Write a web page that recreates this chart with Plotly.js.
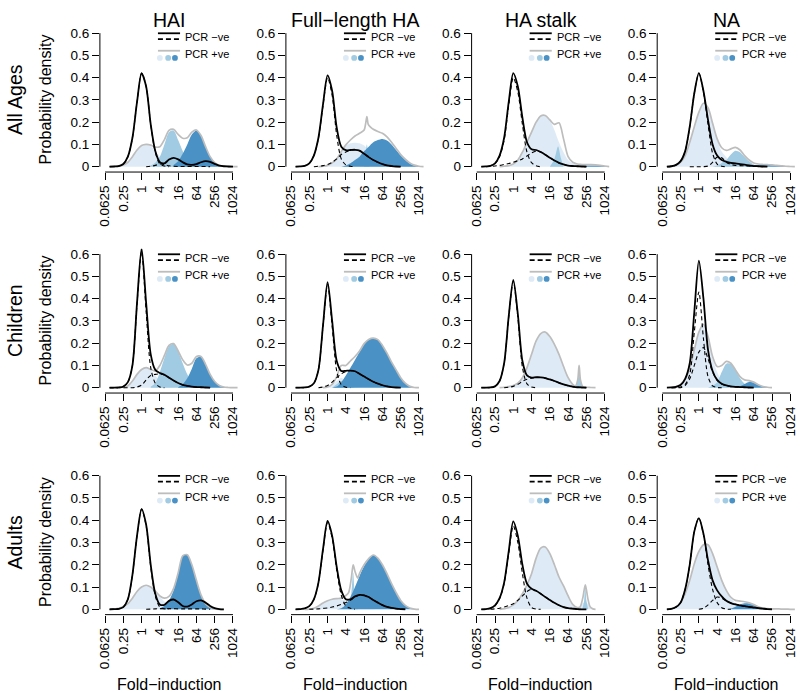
<!DOCTYPE html>
<html><head><meta charset="utf-8">
<script src="https://cdn.plot.ly/plotly-3.0.1.min.js"></script>
<style>html,body{margin:0;padding:0;background:#fff}#chart{width:800px;height:693px}</style>
</head><body><div id="chart"></div>
<script>
// ---------- labels ----------
const colTitles = ["HAI", "Full\u2212length HA", "HA stalk", "NA"];
const rowTitles = ["All Ages", "Children", "Adults"];
const xTickVals = [-4, -2, 0, 2, 4, 6, 8, 10];           // log2 fold-induction
const xTickText = ["0.0625", "0.25", "1", "4", "16", "64", "256", "1024"];
const yTickVals = [0, 0.1, 0.2, 0.3, 0.4, 0.5, 0.6];
const yTickText = ["0", "0.1", "0.2", "0.3", "0.4", "0.5", "0.6"];
const gridX = [-3.5,-3,-2.5,-2,-1.5,-1,-0.5,0,0.5,1,1.5,2,2.5,3,3.5,4,4.5,5,5.5,6,6.5,7,7.5,8,8.5,9,9.5,10,10.5];

// ---------- All ages ----------
const all_hai_neg = [0,0.001,0.003,0.012,0.045,0.13,0.29,0.42,0.36,0.19,0.07,0.02,0.015,0.032,0.04,0.033,0.02,0.01,0.008,0.012,0.02,0.025,0.022,0.013,0.005,0.002,0.001,0];
const all_hai_nd1 = [0,0.001,0.003,0.012,0.045,0.13,0.29,0.42,0.36,0.19,0.065,0.012,0.003,0];
const all_hai_nd2 = [0,0.002,0.006,0.012,0.01,0.004,0.002,0.001,0.001,0.001,0.001,0.001,0.001,0.001,0];
const all_hai_pos = [0,0.001,0.003,0.008,0.02,0.045,0.075,0.095,0.1,0.097,0.088,0.09,0.122,0.163,0.168,0.145,0.128,0.13,0.155,0.165,0.14,0.09,0.045,0.018,0.006,0.002,0.001,0,0];
const all_hai_c1 = [0,0.001,0.003,0.008,0.02,0.045,0.075,0.095,0.1,0.092,0.07,0.045,0.022,0.008,0.002,0];
const all_hai_c2 = [0.005,0.018,0.045,0.1,0.155,0.163,0.12,0.07,0.03,0.01,0.003,0];
const all_hai_c3 = [0.008,0.025,0.058,0.1,0.145,0.163,0.14,0.09,0.045,0.018,0.006,0.002,0.0005,0];

const all_fl_neg = [0,0.001,0.004,0.015,0.05,0.13,0.28,0.41,0.34,0.175,0.09,0.074,0.075,0.076,0.072,0.058,0.043,0.03,0.02,0.012,0.006,0.003,0.001,0];
const all_fl_nd1 = [0,0.001,0.004,0.015,0.05,0.128,0.275,0.4,0.32,0.14,0.035,0.008,0.002,0];
const all_fl_nd2 = [0,0.002,0.005,0.01,0.02,0.035,0.055,0.066,0.073,0.076,0.072,0.058,0.043,0.03,0.02,0.012,0.006,0.003,0.001,0];
const all_fl_pos_x = [-1,-0.5,0,0.5,1,1.5,2,2.5,3,3.5,4,4.15,4.3,4.45,4.7,5,5.5,6,6.5,7,7.5,8,8.5,9,9.5,10,10.5];
const all_fl_pos = [0,0.002,0.006,0.017,0.035,0.068,0.098,0.12,0.138,0.15,0.165,0.19,0.225,0.19,0.178,0.168,0.158,0.15,0.134,0.11,0.082,0.055,0.034,0.017,0.007,0.002,0];
const all_fl_c1 = [0,0.002,0.006,0.016,0.032,0.063,0.092,0.105,0.108,0.105,0.095,0.075,0.055,0.038,0.025,0.016,0.01,0.007,0.005,0.004,0.003,0.002,0.001,0];
const all_fl_c2_x = [4.0,4.15,4.3,4.45,4.6];
const all_fl_c2 = [0,0.05,0.1,0.05,0];
const all_fl_c3 = [0,0.005,0.015,0.03,0.045,0.07,0.09,0.11,0.12,0.125,0.118,0.1,0.075,0.05,0.03,0.014,0.005,0.002,0];

const all_st_neg = [0,0.001,0.004,0.015,0.05,0.13,0.29,0.42,0.36,0.22,0.11,0.078,0.075,0.066,0.054,0.04,0.028,0.017,0.01,0.005,0.003,0.002,0.001,0];
const all_st_nd1 = [0,0.001,0.004,0.014,0.045,0.12,0.275,0.4,0.335,0.19,0.065,0.018,0.004,0];
const all_st_nd2 = [0,0.001,0.003,0.006,0.01,0.014,0.02,0.027,0.035,0.048,0.062,0.07,0.066,0.054,0.04,0.028,0.017,0.01,0.005,0.003,0.002,0.001,0];
const all_st_pos = [0,0.002,0.005,0.012,0.03,0.065,0.11,0.155,0.2,0.228,0.23,0.21,0.19,0.197,0.125,0.045,0.02,0.012,0.01,0.009,0.009,0.008,0.006,0.003,0];
const all_st_c1 = [0,0.002,0.005,0.012,0.03,0.065,0.11,0.155,0.2,0.228,0.23,0.21,0.165,0.11,0.065,0.03,0.015,0.009,0.006,0.005,0.004,0.003,0.002,0.001,0];
const all_st_c2_x = [4.0,4.5,4.9,5.2,5.5];
const all_st_c2 = [0,0.035,0.092,0.04,0];
const all_st_c3 = [0,0.002,0.004,0.005,0.005,0.005,0.004,0.002,0];

const all_na_neg = [0,0.002,0.008,0.025,0.07,0.18,0.33,0.42,0.34,0.21,0.1,0.05,0.03,0.022,0.017,0.015,0.012,0.009,0.006,0.003,0.002,0.001,0];
const all_na_nd1 = [0,0.002,0.008,0.025,0.07,0.18,0.33,0.42,0.335,0.19,0.06,0.012,0.002,0];
const all_na_nd2 = [0,0,0,0,0.003,0.02,0.043,0.04,0.02,0.01,0.006,0.005,0.004,0.003,0.002,0.001,0];
const all_na_pos = [0,0.002,0.006,0.02,0.05,0.11,0.18,0.245,0.285,0.265,0.195,0.125,0.085,0.073,0.08,0.087,0.075,0.05,0.03,0.017,0.012,0.01,0.009,0.008,0.006,0.004,0.002,0.001,0];
const all_na_c1 = [0,0.002,0.006,0.02,0.05,0.11,0.18,0.245,0.285,0.265,0.195,0.12,0.068,0.043,0.025,0.015,0.009,0.005,0.003,0.001,0];
const all_na_c2 = [0,0.005,0.017,0.03,0.055,0.072,0.065,0.044,0.024,0.01,0.004,0.001,0];
const all_na_c3 = [0,0.003,0.006,0.007,0.008,0.008,0.007,0.006,0.004,0.002,0.001,0];

// ---------- Children ----------
const chi_hai_neg = [0,0,0.001,0.005,0.025,0.1,0.38,0.625,0.38,0.15,0.08,0.066,0.058,0.045,0.032,0.021,0.013,0.008,0.005,0.003,0.002,0.001,0];
const chi_hai_nd1 = [0,0,0.001,0.005,0.025,0.1,0.375,0.61,0.34,0.09,0.02,0.003,0];
const chi_hai_nd2 = [0,0,0,0,0,0,0.003,0.012,0.035,0.055,0.06,0.062,0.057,0.045,0.032,0.021,0.013,0.008,0.005,0.003,0.002,0.001,0];
const chi_hai_pos = [0,0.008,0.03,0.06,0.082,0.09,0.082,0.075,0.1,0.145,0.19,0.198,0.165,0.125,0.102,0.11,0.14,0.14,0.105,0.06,0.028,0.01,0.003,0.001,0,0];
const chi_hai_c1 = [0,0.008,0.03,0.06,0.082,0.09,0.078,0.055,0.03,0.012,0.004,0.001,0];
const chi_hai_c2 = [0.004,0.02,0.07,0.133,0.186,0.197,0.163,0.11,0.06,0.025,0.008,0.002,0];
const chi_hai_c3 = [0.002,0.015,0.042,0.085,0.132,0.138,0.105,0.06,0.028,0.01,0.003,0.001,0];

const chi_fl_neg = [0,0,0.001,0.005,0.02,0.08,0.28,0.474,0.3,0.12,0.075,0.076,0.077,0.074,0.062,0.05,0.038,0.027,0.018,0.011,0.006,0.003,0.001,0];
const chi_fl_nd1 = [0,0,0.001,0.005,0.02,0.08,0.277,0.464,0.275,0.075,0.013,0.002,0];
const chi_fl_nd2 = [0,0.003,0.01,0.025,0.045,0.062,0.072,0.077,0.074,0.062,0.05,0.038,0.027,0.018,0.011,0.006,0.003,0.001,0];
const chi_fl_pos = [0,0.003,0.015,0.05,0.1,0.1,0.12,0.14,0.165,0.198,0.217,0.223,0.216,0.19,0.155,0.115,0.08,0.045,0.02,0.006,0.001,0];
const chi_fl_c1 = [0,0.002,0.01,0.03,0.045,0.03,0.015,0.005,0.001,0];
const chi_fl_c2 = [0,0.015,0.03,0.015,0.005,0];
const chi_fl_c3 = [0,0.005,0.025,0.055,0.09,0.125,0.16,0.195,0.215,0.222,0.215,0.19,0.155,0.115,0.08,0.045,0.02,0.006,0.001,0];

const chi_st_neg = [0,0,0.001,0.006,0.03,0.11,0.32,0.484,0.33,0.12,0.055,0.045,0.047,0.046,0.043,0.037,0.03,0.022,0.015,0.009,0.005,0.002,0.001,0];
const chi_st_nd1 = [0,0,0.001,0.006,0.03,0.11,0.318,0.478,0.315,0.092,0.017,0.003,0];
const chi_st_nd2 = [0,0.002,0.006,0.015,0.028,0.038,0.043,0.046,0.046,0.043,0.037,0.03,0.022,0.015,0.009,0.005,0.002,0.001,0];
const chi_st_pos_x = [-1.5,-1,-0.5,0,0.5,1,1.5,2,2.5,3,3.5,4,4.5,5,5.5,6,6.5,6.8,7.05,7.2,7.35,7.6,8,8.5,9];
const chi_st_pos = [0,0.002,0.005,0.01,0.02,0.045,0.09,0.15,0.21,0.243,0.25,0.23,0.195,0.15,0.095,0.045,0.015,0.008,0.035,0.1,0.035,0.005,0.002,0.001,0];
const chi_st_c1 = [0,0.002,0.005,0.01,0.02,0.045,0.09,0.15,0.21,0.243,0.25,0.23,0.195,0.15,0.095,0.045,0.015,0.005,0.002,0.001,0];
const chi_st_c2_x = [6.8,7.05,7.2,7.35,7.6];
const chi_st_c2 = [0,0.03,0.1,0.03,0];

const chi_na_neg = [0,0.001,0.004,0.012,0.04,0.11,0.34,0.571,0.4,0.17,0.075,0.035,0.018,0.01,0.006,0.004,0.003,0.002,0.001,0];
const chi_na_nd1 = [0,0,0.003,0.015,0.06,0.25,0.43,0.22,0.05,0.008,0.001,0];
const chi_na_nd2 = [0,0,0,0.01,0.04,0.1,0.16,0.18,0.13,0.07,0.033,0.016,0.009,0.005,0.003,0.002,0.001,0];
const chi_na_pos = [0,0.005,0.015,0.04,0.09,0.17,0.25,0.285,0.23,0.14,0.095,0.1,0.118,0.11,0.08,0.05,0.035,0.032,0.025,0.013,0.005,0.002,0];
const chi_na_c1 = [0,0.005,0.015,0.04,0.09,0.17,0.25,0.285,0.23,0.13,0.07,0.03,0.01,0.003,0];
const chi_na_c2 = [0,0.01,0.025,0.07,0.108,0.107,0.078,0.042,0.018,0.006,0.002,0];
const chi_na_c3 = [0,0.007,0.017,0.026,0.023,0.012,0.005,0.002,0];

// ---------- Adults ----------
const adu_hai_neg = [0,0.001,0.002,0.01,0.045,0.155,0.33,0.45,0.38,0.2,0.07,0.022,0.02,0.038,0.044,0.032,0.015,0.012,0.022,0.036,0.04,0.03,0.015,0.005,0.001,0];
const adu_hai_nd1 = [0,0.001,0.002,0.01,0.045,0.155,0.33,0.45,0.375,0.19,0.06,0.01,0.002,0];
const adu_hai_nd2 = [0,0.001,0.002,0.003,0.003,0.003,0.003,0.002,0.002,0.002,0.002,0.002,0.002,0.001,0];
const adu_hai_pos = [0,0.001,0.004,0.012,0.025,0.05,0.08,0.1,0.108,0.1,0.082,0.06,0.05,0.058,0.093,0.163,0.24,0.245,0.2,0.13,0.065,0.025,0.008,0.002,0,0];
const adu_hai_c1 = [0,0.001,0.004,0.012,0.025,0.05,0.08,0.1,0.108,0.1,0.082,0.055,0.035,0.018,0.008,0.003,0];
const adu_hai_c3 = [0.005,0.015,0.04,0.085,0.16,0.24,0.245,0.2,0.13,0.065,0.025,0.008,0.002,0];

const adu_fl_neg = [0,0.001,0.004,0.014,0.045,0.12,0.27,0.397,0.33,0.19,0.085,0.045,0.045,0.058,0.065,0.063,0.055,0.042,0.03,0.019,0.011,0.006,0.003,0.001,0];
const adu_fl_nd1 = [0,0.001,0.004,0.014,0.044,0.118,0.266,0.39,0.32,0.175,0.063,0.015,0.005,0];
const adu_fl_nd2 = [0,0.001,0.002,0.004,0.006,0.01,0.015,0.022,0.03,0.04,0.055,0.063,0.063,0.055,0.042,0.03,0.019,0.011,0.006,0.003,0.001,0];
const adu_fl_pos_x = [-2.5,-2,-1.5,-1,-0.5,0,0.5,1,1.5,2,2.3,2.6,2.8,3.0,3.3,3.5,4,4.5,5,5.5,6,6.5,7,7.5,8,8.5,9,9.5,10];
const adu_fl_pos = [0,0.001,0.005,0.015,0.028,0.038,0.045,0.048,0.05,0.062,0.075,0.14,0.2,0.17,0.14,0.162,0.2,0.228,0.244,0.23,0.2,0.16,0.115,0.075,0.04,0.018,0.006,0.001,0];
const adu_fl_c1 = [0,0.005,0.015,0.028,0.038,0.045,0.048,0.045,0.04,0.03,0.02,0.012,0.006,0.003,0.001,0];
const adu_fl_c2_x = [2.3,2.6,2.8,3.0,3.3];
const adu_fl_c2 = [0,0.07,0.165,0.05,0];
const adu_fl_c3 = [0,0.005,0.022,0.055,0.1,0.15,0.195,0.225,0.243,0.23,0.2,0.16,0.115,0.075,0.04,0.018,0.006,0.001,0];

const adu_st_neg = [0,0.001,0.005,0.018,0.05,0.12,0.26,0.395,0.33,0.2,0.115,0.092,0.083,0.07,0.055,0.042,0.029,0.018,0.01,0.005,0.003,0.001,0,0];
const adu_st_nd1 = [0,0.001,0.004,0.016,0.047,0.115,0.25,0.375,0.3,0.16,0.05,0.008,0.001,0];
const adu_st_nd2 = [0,0.002,0.005,0.01,0.017,0.025,0.04,0.06,0.08,0.09,0.083,0.07,0.055,0.042,0.029,0.018,0.01,0.005,0.003,0.001,0];
const adu_st_pos_x = [-1.5,-1,-0.5,0,0.5,1,1.5,2,2.5,3,3.5,4,4.5,5,5.5,6,6.5,7,7.3,7.6,7.88,8.15,8.4,8.7,9];
const adu_st_pos = [0,0.003,0.008,0.02,0.04,0.07,0.11,0.16,0.23,0.275,0.28,0.25,0.2,0.145,0.105,0.06,0.022,0.008,0.01,0.05,0.11,0.05,0.012,0.002,0];
const adu_st_c1 = [0,0.003,0.008,0.02,0.04,0.07,0.11,0.16,0.23,0.275,0.28,0.25,0.2,0.145,0.105,0.06,0.022,0.008,0.025,0.03,0.005,0];
const adu_st_c2_x = [7.55,7.75,7.88,8.0,8.2];
const adu_st_c2 = [0,0.04,0.11,0.04,0];

const adu_na_neg = [0,0.002,0.01,0.03,0.09,0.2,0.35,0.41,0.34,0.22,0.13,0.085,0.058,0.038,0.028,0.022,0.018,0.014,0.011,0.008,0.005,0.003,0.001,0];
const adu_na_nd1 = [0,0.002,0.01,0.03,0.09,0.2,0.35,0.41,0.335,0.2,0.09,0.03,0.007,0.001,0];
const adu_na_nd2 = [0,0.004,0.02,0.04,0.055,0.05,0.037,0.028,0.022,0.018,0.014,0.011,0.008,0.005,0.003,0.001,0];
const adu_na_pos = [0,0.003,0.01,0.03,0.07,0.13,0.205,0.26,0.29,0.29,0.25,0.19,0.13,0.085,0.054,0.04,0.037,0.034,0.029,0.021,0.011,0.005,0.003,0.002,0.002,0.001,0.001,0,0];
const adu_na_c1 = [0,0.003,0.01,0.03,0.07,0.13,0.205,0.26,0.29,0.29,0.25,0.19,0.13,0.085,0.05,0.028,0.015,0.007,0.003,0.001,0];
const adu_na_c3 = [0,0.004,0.012,0.022,0.027,0.026,0.02,0.011,0.005,0.002,0.001,0];

// panel table: [start-on-grid or x-array, values]
const panels = [
 {neg:[-3.5,all_hai_neg], nd:[[-3.5,all_hai_nd1],[0.5,all_hai_nd2]], pos:[-3.5,all_hai_pos], fills:[[-3.5,all_hai_c1],[1,all_hai_c2],[3.5,all_hai_c3]]},
 {neg:[-3.5,all_fl_neg], nd:[[-3.5,all_fl_nd1],[-1.5,all_fl_nd2]], pos:[all_fl_pos_x,all_fl_pos], fills:[[-1,all_fl_c1],[all_fl_c2_x,all_fl_c2],[1.5,all_fl_c3]]},
 {neg:[-3.5,all_st_neg], nd:[[-3.5,all_st_nd1],[-3,all_st_nd2]], pos:[-1.5,all_st_pos], fills:[[-1.5,all_st_c1],[all_st_c2_x,all_st_c2],[6.5,all_st_c3]]},
 {neg:[-3.5,all_na_neg], nd:[[-3.5,all_na_nd1],[-1,all_na_nd2]], pos:[-3.5,all_na_pos], fills:[[-3.5,all_na_c1],[1.5,all_na_c2],[5,all_na_c3]]},
 {neg:[-3.5,chi_hai_neg], nd:[[-3.5,chi_hai_nd1],[-3.5,chi_hai_nd2]], pos:[-2,chi_hai_pos], fills:[[-2,chi_hai_c1],[1,chi_hai_c2],[4,chi_hai_c3]]},
 {neg:[-3.5,chi_fl_neg], nd:[[-3.5,chi_fl_nd1],[-1,chi_fl_nd2]], pos:[-0.5,chi_fl_pos], fills:[[-0.5,chi_fl_c1],[0.5,chi_fl_c2],[0.5,chi_fl_c3]]},
 {neg:[-3.5,chi_st_neg], nd:[[-3.5,chi_st_nd1],[-1,chi_st_nd2]], pos:[chi_st_pos_x,chi_st_pos], fills:[[-1.5,chi_st_c1],[chi_st_c2_x,chi_st_c2],null]},
 {neg:[-3.5,chi_na_neg], nd:[[-3,chi_na_nd1],[-3,chi_na_nd2]], pos:[-3,chi_na_pos], fills:[[-3,chi_na_c1],[1,chi_na_c2],[4,chi_na_c3]]},
 {neg:[-3.5,adu_hai_neg], nd:[[-3.5,adu_hai_nd1],[0.5,adu_hai_nd2]], pos:[-3.5,adu_hai_pos], fills:[[-3.5,adu_hai_c1],null,[2,adu_hai_c3]]},
 {neg:[-3.5,adu_fl_neg], nd:[[-3.5,adu_fl_nd1],[-2,adu_fl_nd2]], pos:[adu_fl_pos_x,adu_fl_pos], fills:[[-2,adu_fl_c1],[adu_fl_c2_x,adu_fl_c2],[1,adu_fl_c3]]},
 {neg:[-3.5,adu_st_neg], nd:[[-3.5,adu_st_nd1],[-2.5,adu_st_nd2]], pos:[adu_st_pos_x,adu_st_pos], fills:[[-1.5,adu_st_c1],[adu_st_c2_x,adu_st_c2],null]},
 {neg:[-3.5,adu_na_neg], nd:[[-3.5,adu_na_nd1],[0,adu_na_nd2]], pos:[-3.5,adu_na_pos], fills:[[-3.5,adu_na_c1],null,[3,adu_na_c3]]}
];

// ---------- styling / geometry ----------
const FILLS = ["#deebf7", "#a0cbe2", "#4a92c6"];
const GREY = "#bdbdbd";
const FONT = "Liberation Sans, Arial, sans-serif";
const W = 800, H = 693;
const colLeft = [99.9, 285.9, 471.6, 657.2], panelW = 138.2;
const rowZero = [166.7, 387.7, 609.3], pxPerUnit = 222.6;
const XR = [-4.56, 10.56], YR = [-0.024, 0.624];

function xy(spec) {
  if (Array.isArray(spec[0])) return {x: spec[0], y: spec[1]};
  const i = gridX.indexOf(spec[0]);
  return {x: gridX.slice(i, i + spec[1].length), y: spec[1]};
}

const traces = [], shapes = [], annotations = [];
const layout = {width: W, height: H, margin: {l:0, r:0, t:0, b:0}, paper_bgcolor: "#fff", plot_bgcolor: "#fff",
  showlegend: false, font: {family: FONT, color: "#000"}, hovermode: false};

panels.forEach((p, k) => {
  const r = Math.floor(k / 4), c = k % 4;
  const s = k === 0 ? "" : String(k + 1);
  const xa = "x" + s, ya = "y" + s;
  const top = rowZero[r] - YR[1] * pxPerUnit, bot = rowZero[r] - YR[0] * pxPerUnit;
  layout["xaxis" + s] = {domain: [colLeft[c] / W, (colLeft[c] + panelW) / W], range: XR, anchor: ya,
    tickvals: xTickVals, ticktext: xTickText, tickangle: -90, ticks: "outside", ticklen: 7, tickwidth: 1, tickcolor: "#000",
    showline: false, showgrid: false, zeroline: false, tickfont: {family: FONT, size: 13.5, color: "#000"}, fixedrange: true};
  layout["yaxis" + s] = {domain: [1 - bot / H, 1 - top / H], range: YR, anchor: xa,
    tickvals: yTickVals, ticktext: yTickText, ticks: "outside", ticklen: 7, tickwidth: 1, tickcolor: "#000",
    showline: false, showgrid: false, zeroline: false, tickfont: {family: FONT, size: 13.5, color: "#000"}, fixedrange: true};

  p.fills.forEach((f, j) => {
    if (!f) return;
    const d = xy(f);
    traces.push({x: d.x, y: d.y, type: "scatter", mode: "lines", xaxis: xa, yaxis: ya, fill: "tozeroy",
      fillcolor: FILLS[j], line: {width: 0, shape: "spline", smoothing: 0.8, color: FILLS[j]}});
  });
  const g = xy(p.pos);
  traces.push({x: g.x, y: g.y, type: "scatter", mode: "lines", xaxis: xa, yaxis: ya,
    line: {width: 1.7, color: GREY, shape: "spline", smoothing: 0.8}});
  p.nd.forEach(nd => {
    const d = xy(nd);
    traces.push({x: d.x, y: d.y, type: "scatter", mode: "lines", xaxis: xa, yaxis: ya,
      line: {width: 1.1, color: "#000", dash: "4px,3px", shape: "spline", smoothing: 0.8}});
  });
  const n = xy(p.neg);
  traces.push({x: n.x, y: n.y, type: "scatter", mode: "lines", xaxis: xa, yaxis: ya,
    line: {width: 1.8, color: "#000", shape: "spline", smoothing: 0.8}});

  // axis lines (R style: from first to last tick)
  shapes.push({type: "line", xref: xa, yref: ya + " domain", x0: -4, x1: 10, y0: 0, y1: 0, line: {color: "#000", width: 1}});
  shapes.push({type: "line", xref: xa + " domain", yref: ya, x0: 0, x1: 0, y0: 0, y1: 0.6, line: {color: "#000", width: 1}});

  // legend glyphs
  const xd = xa + " domain", yd = ya + " domain";
  shapes.push({type: "line", xref: xd, yref: yd, x0: 0.42, x1: 0.58, y0: 0.962, y1: 0.962, line: {color: "#000", width: 1.8}});
  shapes.push({type: "line", xref: xd, yref: yd, x0: 0.42, x1: 0.58, y0: 0.922, y1: 0.922, line: {color: "#000", width: 1.8, dash: "5px,3px"}});
  shapes.push({type: "line", xref: xd, yref: yd, x0: 0.42, x1: 0.58, y0: 0.841, y1: 0.841, line: {color: GREY, width: 1.8}});
  [0.434, 0.494, 0.543].forEach((cx, j) => {
    shapes.push({type: "circle", xref: xd, yref: yd, x0: cx - 0.021, x1: cx + 0.021, y0: 0.791 - 0.02, y1: 0.791 + 0.02,
      fillcolor: FILLS[j], line: {width: 0}});
  });
  annotations.push({xref: xd, yref: yd, x: 0.60, y: 0.939, text: "PCR \u2212ve", showarrow: false, xanchor: "left", yanchor: "middle",
    font: {family: FONT, size: 11, color: "#000"}});
  annotations.push({xref: xd, yref: yd, x: 0.60, y: 0.818, text: "PCR +ve", showarrow: false, xanchor: "left", yanchor: "middle",
    font: {family: FONT, size: 11, color: "#000"}});

  if (r === 0) annotations.push({xref: "paper", yref: "paper", x: (colLeft[c] + panelW / 2) / W, y: 1 - 20 / H, text: colTitles[c],
    showarrow: false, xanchor: "center", yanchor: "middle", font: {family: FONT, size: 19.5, color: "#000"}});
  if (r === 2) annotations.push({xref: "paper", yref: "paper", x: (colLeft[c] + panelW / 2) / W, y: 1 - 684 / H, text: "Fold\u2212induction",
    showarrow: false, xanchor: "center", yanchor: "middle", font: {family: FONT, size: 16, color: "#000"}});
  if (c === 0) {
    const yc = rowZero[r] - 0.3 * pxPerUnit;
    annotations.push({xref: "paper", yref: "paper", x: 15 / W, y: 1 - yc / H, text: rowTitles[r], textangle: -90,
      showarrow: false, xanchor: "center", yanchor: "middle", font: {family: FONT, size: 19.5, color: "#000"}});
    annotations.push({xref: "paper", yref: "paper", x: 45.5 / W, y: 1 - yc / H, text: "Probability density", textangle: -90,
      showarrow: false, xanchor: "center", yanchor: "middle", font: {family: FONT, size: 16, color: "#000"}});
  }
});
layout.shapes = shapes;
layout.annotations = annotations;
Plotly.newPlot("chart", traces, layout, {staticPlot: true, displayModeBar: false});
</script></body></html>
